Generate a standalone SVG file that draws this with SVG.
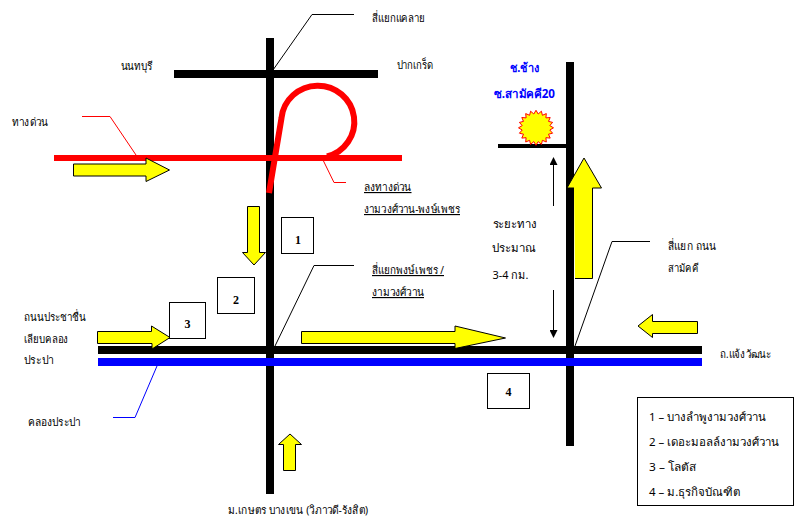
<svg xmlns="http://www.w3.org/2000/svg" width="797" height="532" viewBox="0 0 797 532">
<style>
text{font-family:"Noto Sans","Open Sans","DejaVu Sans","Liberation Sans",sans-serif;font-size:11.500px;fill:#000}
.u{text-decoration:underline}
.b{font-family:"Liberation Serif",serif;font-weight:bold;font-size:12px}
.blue{font-weight:bold;fill:#00f;font-size:12px}
.arrow{fill:#ff0;stroke:#000;stroke-width:1}
.box{fill:#fff;stroke:#000;stroke-width:1}
.lead{fill:none;stroke:#000;stroke-width:1}
</style>
<defs>
<marker id="tip" markerWidth="8" markerHeight="8" refX="7" refY="4" orient="auto" markerUnits="userSpaceOnUse"><path d="M0,0L8,4L0,8Z" fill="#000"/></marker>
</defs>
<rect width="797" height="532" fill="#fff"/>
<g id="connectors">
<path class="lead" d="M273,70L312,14.500H354"/>
<path class="lead" d="M82,116.500H110L136,155" style="stroke:#f00"/>
<path class="lead" d="M323,160L334,182.500H346" style="stroke:#f00"/>
<path class="lead" d="M275,346L314,265.500H354"/>
<path class="lead" d="M575,346L612,241.500H650"/>
<path class="lead" d="M157,366L135,417.500H113" style="stroke:#00f"/>
<path class="lead" d="M553.500,206V158" marker-end="url(#tip)"/>
<path class="lead" d="M553.500,290V337" marker-end="url(#tip)"/>
</g>
<g id="roads">
<rect x="266" y="38" width="8" height="456"/>
<rect x="174" y="70" width="204" height="8"/>
<rect x="566" y="62" width="8" height="384"/>
<rect x="498" y="144" width="68" height="4"/>
<rect x="98" y="346" width="604" height="8"/>
<rect x="98" y="358" width="604" height="8" fill="#00f"/>
<rect x="54" y="155" width="348" height="6" fill="#f00"/>
<path d="M269,193L281.500,118A36.500,36 0 1 1 327,156.500" fill="none" stroke="#f00" stroke-width="6"/>
</g>
<g id="arrows">
<path class="arrow" d="M73.500,164H146V158L169.500,170L146,181.500V176H73.500Z"/>
<path class="arrow" d="M247.500,206.500H259.500V252.500H265.500L254,265L242.500,252.500H247.500Z"/>
<path class="arrow" d="M97.500,331.500H151.500V326L170,337.500L152,349V343.500H97.500Z"/>
<path class="arrow" d="M301.500,331.500H455V326L505.500,338L455,348.500V343.500H301.500Z"/>
<path class="arrow" d="M283.500,470.500V444.500H278.500L290,434L301.500,444.500H295.500V470.500Z"/>
<path class="arrow" d="M575,278.500H592.500V188H601.500L584,158L567,188H574"/>
<path class="arrow" d="M697.500,321.500H652.500V314.500L638,326L652.500,337.500V333.500H697.500Z"/>
</g>
<g id="box1"><rect class="box" x="281.500" y="217.500" width="32" height="36"/><text class="b" x="298" y="244" text-anchor="middle">1</text></g>
<g id="box2"><rect class="box" x="217.500" y="277.500" width="37" height="36"/><text class="b" x="236" y="304" text-anchor="middle">2</text></g>
<g id="box3"><rect class="box" x="169.500" y="302.500" width="36" height="36"/><text class="b" x="187.500" y="328" text-anchor="middle">3</text></g>
<g id="box4"><rect class="box" x="487.500" y="373.500" width="42" height="35"/><text class="b" x="508.500" y="396" text-anchor="middle">4</text></g>
<g id="star"><polygon transform="translate(536 127.800)" fill="#ff0" stroke="#f00" stroke-width="1" points="0,-17.500 2.200,-13.800 5.400,-16.600 6.400,-12.500 10.300,-14.200 9.900,-9.900 14.200,-10.300 12.500,-6.400 16.600,-5.400 13.800,-2.200 17.500,0 13.800,2.200 16.600,5.400 12.500,6.400 14.200,10.300 9.900,9.900 10.300,14.200 6.400,12.500 5.400,16.600 2.200,13.800 0,17.500 -2.200,13.800 -5.400,16.600 -6.400,12.500 -10.300,14.200 -9.900,9.900 -14.200,10.300 -12.500,6.400 -16.600,5.400 -13.800,2.200 -17.500,0 -13.800,-2.200 -16.600,-5.400 -12.500,-6.400 -14.200,-10.300 -9.900,-9.900 -10.300,-14.200 -6.400,-12.500 -5.400,-16.600 -2.200,-13.800"/></g>
<g id="labels" lengthAdjust="spacingAndGlyphs">
<text x="372" y="22" textLength="53" lengthAdjust="spacingAndGlyphs">สี่แยกแคลาย</text>
<text x="120.500" y="70" textLength="32" lengthAdjust="spacingAndGlyphs">นนทบุรี</text>
<text x="396.500" y="69" textLength="36.500" lengthAdjust="spacingAndGlyphs">ปากเกร็ด</text>
<text x="12" y="126" textLength="36" lengthAdjust="spacingAndGlyphs">ทางด่วน</text>
<text class="u" x="364" y="191" textLength="47.500" lengthAdjust="spacingAndGlyphs">ลงทางด่วน</text>
<text class="u" x="364" y="213" textLength="96" lengthAdjust="spacingAndGlyphs">งามวงศ์วาน-พงษ์เพชร</text>
<text class="u" x="372" y="274" textLength="72" lengthAdjust="spacingAndGlyphs">สี่แยกพงษ์เพชร /</text>
<text class="u" x="372" y="296" textLength="52" lengthAdjust="spacingAndGlyphs">งามวงศ์วาน</text>
<text x="24" y="321" textLength="62" lengthAdjust="spacingAndGlyphs">ถนนประชาชื่น</text>
<text x="24" y="343" textLength="44.500" lengthAdjust="spacingAndGlyphs">เลียบคลอง</text>
<text x="24" y="364" textLength="29.500" lengthAdjust="spacingAndGlyphs">ประปา</text>
<text x="27.500" y="426" textLength="53" lengthAdjust="spacingAndGlyphs">คลองประปา</text>
<text x="228" y="514" textLength="140" lengthAdjust="spacingAndGlyphs">ม.เกษตร บางเขน (วิภาวดี-รังสิต)</text>
<text x="492.500" y="228" textLength="44.500" lengthAdjust="spacingAndGlyphs">ระยะทาง</text>
<text x="492" y="252" textLength="44" lengthAdjust="spacingAndGlyphs">ประมาณ</text>
<text x="492.500" y="279" textLength="36" lengthAdjust="spacingAndGlyphs">3-4 กม.</text>
<text x="668" y="250" textLength="48" lengthAdjust="spacingAndGlyphs">สี่แยก ถนน</text>
<text x="668" y="272" textLength="30.500" lengthAdjust="spacingAndGlyphs">สามัคคี</text>
<text x="720" y="358" textLength="51" lengthAdjust="spacingAndGlyphs">ถ.แจ้งวัฒนะ</text>
<text class="blue" x="510" y="72" textLength="29.500" lengthAdjust="spacingAndGlyphs">ช.ช้าง</text>
<text class="blue" x="494" y="98" textLength="61" lengthAdjust="spacingAndGlyphs">ซ.สามัคคี20</text>
</g>
<g id="legend">
<rect class="box" x="637.500" y="397.500" width="156" height="108"/>
<text x="649" y="421" textLength="116.500" lengthAdjust="spacingAndGlyphs">1 – บางลำพูงามวงศ์วาน</text>
<text x="649" y="446" textLength="130" lengthAdjust="spacingAndGlyphs">2 – เดอะมอลล์งามวงศ์วาน</text>
<text x="649" y="471" textLength="47" lengthAdjust="spacingAndGlyphs">3 – โลตัส</text>
<text x="649" y="496" textLength="91.500" lengthAdjust="spacingAndGlyphs">4 – ม.ธุรกิจบัณฑิต</text>
</g>
</svg>
